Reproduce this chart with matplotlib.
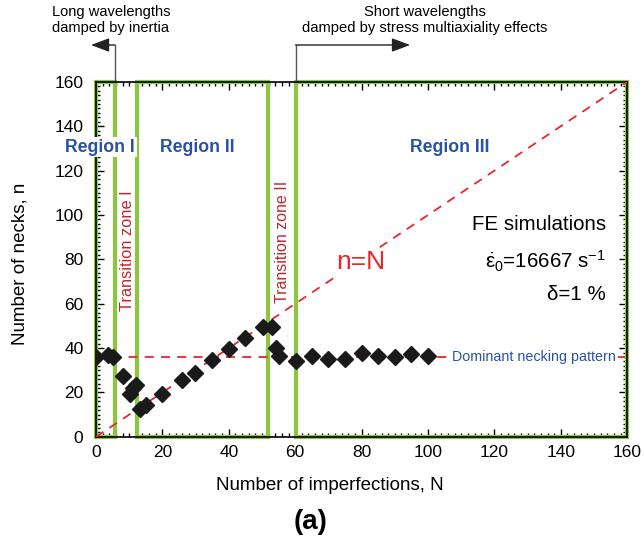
import matplotlib.pyplot as plt
from matplotlib.patches import Rectangle
from matplotlib.ticker import MultipleLocator

plt.rcParams['font.family'] = ['Liberation Sans', 'DejaVu Sans']
plt.rcParams['mathtext.fontset'] = 'custom'
plt.rcParams['mathtext.rm'] = 'Liberation Sans'
plt.rcParams['mathtext.it'] = 'Liberation Sans:italic'

# FE simulation results: number of imperfections N vs number of necks n
N_imp = [0, 3.7, 5, 8, 10.2, 11.2, 12.2, 13.3, 15, 20, 26, 29.8, 35, 40, 45,
         50.3, 52.9, 54.1, 55.2, 60.1, 65, 70, 75, 80, 85, 90, 95, 100]
n_necks = [36, 37, 36, 27.5, 19.5, 22, 23.5, 12.5, 14.5, 19.5, 25.5, 29, 34.5, 39.5, 44.7,
           49.3, 49.5, 40, 36.3, 34.3, 36.3, 35.3, 35.3, 37.6, 36.6, 35.8, 37.4, 36.6]
dominant_n = 36

# region boundaries (green boxes)
regions = [(0, 5.7), (12.4, 51.8), (60.1, 160)]
region_labels = ['Region I', 'Region II', 'Region III']
region_label_x = [1.3, 30.5, 106.5]

green = '#8cc63f'
red = '#e8262b'
blue = '#2a52a3'
darkred = '#c1272d'

fig = plt.figure(figsize=(6.44, 5.42), dpi=100)
ax = fig.add_axes([0.149, 0.194, 0.825, 0.655])

# green region boxes
for x0, x1 in regions:
    ax.add_patch(Rectangle((x0, 0), x1 - x0, 160, fill=False, edgecolor=green,
                           linewidth=3, zorder=2, clip_on=False))

# reference lines
ax.plot([0, 160], [0, 160], '--', color=red, lw=1.3, dashes=(5, 4), zorder=3)
ax.plot([0, 160], [dominant_n, dominant_n], '--', color=red, lw=1.3, dashes=(5, 4), zorder=3)

ax.plot(N_imp, n_necks, 'D', color='#1a1a1a', markersize=8.5, zorder=5)

ax.set_xlim(0, 160)
ax.set_ylim(0, 160)
ax.xaxis.set_major_locator(MultipleLocator(20))
ax.yaxis.set_major_locator(MultipleLocator(20))
ax.xaxis.set_minor_locator(MultipleLocator(2))
ax.yaxis.set_minor_locator(MultipleLocator(2))
ax.tick_params(which='both', direction='in', top=True, right=True, labelsize=12.5, width=1)
ax.tick_params(which='major', length=6)
ax.tick_params(which='minor', length=3)
ax.tick_params(axis='x', pad=6)
ax.tick_params(axis='y', pad=9)
for s in ax.spines.values():
    s.set_linewidth(1.2)

# axis labels
fig.text(330 / 644, 1 - 485 / 542, 'Number of imperfections, N', fontsize=13.5, ha='center', va='center')
fig.text(20 / 644, 1 - 264 / 542, 'Number of necks, n', fontsize=13.5, ha='center', va='center',
         rotation=90)

# text annotations
for lab, xl in zip(region_labels, region_label_x):
    ax.text(xl, 130.5, lab, color=blue, fontsize=12.7, fontweight='bold', ha='center',
            va='center', zorder=6, clip_on=False,
            bbox=dict(facecolor='white', edgecolor='none', pad=1))
ax.text(9.4, 84, 'Transition zone I', rotation=90, color=darkred, fontsize=11.8,
        ha='center', va='center')
ax.text(56.2, 88, 'Transition zone II', rotation=90, color=darkred, fontsize=11.5,
        ha='center', va='center')
ax.text(79.8, 78.8, 'n=N', color=red, fontsize=19, ha='center', va='center', zorder=6,
        bbox=dict(facecolor='white', edgecolor='none', pad=1))
ax.text(132, 36, 'Dominant necking pattern', color=blue, fontsize=10.3, ha='center', va='center',
        zorder=6, bbox=dict(facecolor='white', edgecolor='none', pad=1))
ax.text(153.5, 95.5, 'FE simulations', fontsize=14.8, ha='right', va='center')
ax.text(153.5, 79, r'$\dot{\mathrm{\varepsilon}}_{\mathrm{0}}$=16667 s$^{\mathrm{-1}}$', fontsize=14.8,
        ha='right', va='center')
ax.text(153.5, 64, 'δ=1 %', fontsize=14.8, ha='right', va='center')

# arrows above the plot
arrow_y = 176.6
ax.plot([5.7, 5.7], [160, arrow_y], color='#555555', lw=1, clip_on=False)
ax.annotate('', xy=(-1.5, arrow_y), xytext=(5.7, arrow_y), xycoords='data',
            arrowprops=dict(arrowstyle='-|>,head_length=0.8,head_width=0.3', color='#222222',
                            lw=1, mutation_scale=14, shrinkA=0, shrinkB=0),
            annotation_clip=False)
ax.plot([60.1, 60.1], [160, arrow_y], color='#555555', lw=1, clip_on=False)
ax.annotate('', xy=(94.6, arrow_y), xytext=(60.1, arrow_y), xycoords='data',
            arrowprops=dict(arrowstyle='-|>,head_length=0.8,head_width=0.3', color='#222222',
                            lw=1, mutation_scale=14, shrinkA=0, shrinkB=0),
            annotation_clip=False)

fig.text(111 / 644, 1 - 20 / 542, 'Long wavelengths\ndamped by inertia', fontsize=10.5,
         ha='center', va='center', multialignment='center', linespacing=1.1)
fig.text(425 / 644, 1 - 20 / 542, 'Short wavelengths\ndamped by stress multiaxiality effects',
         fontsize=10.6, ha='center', va='center', multialignment='center', linespacing=1.1)
fig.text(311 / 644, 1 - 522 / 542, '(a)', fontsize=20, fontweight='bold', ha='center', va='center')

fig.savefig('out.png', dpi=100)
